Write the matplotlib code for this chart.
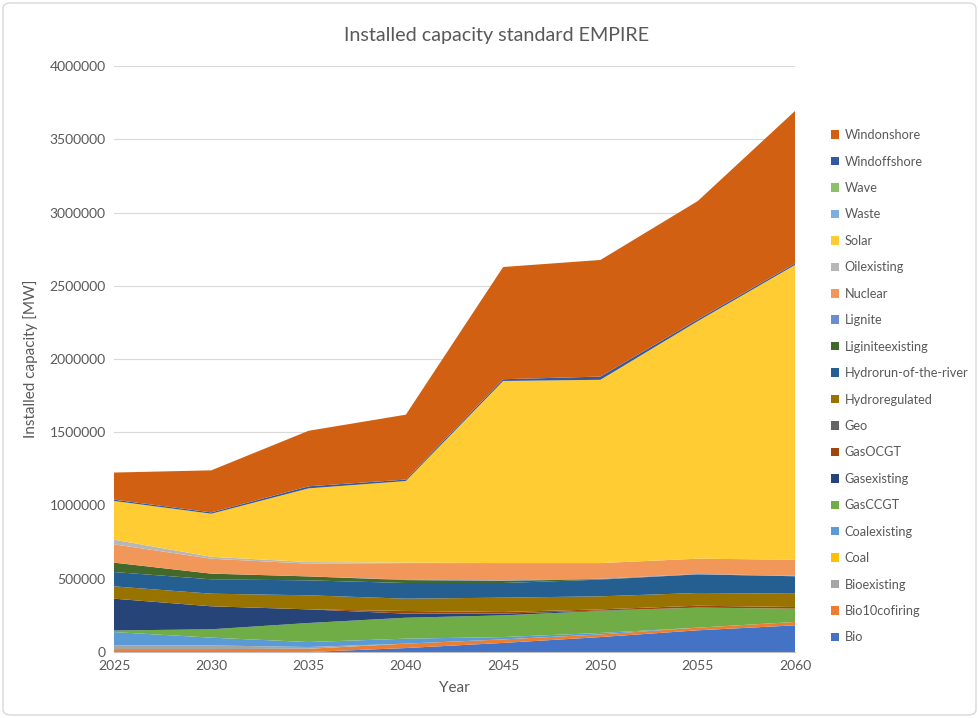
import matplotlib
matplotlib.use("Agg")
import matplotlib.pyplot as plt
from matplotlib.patches import Patch, FancyBboxPatch

plt.rcParams['font.family'] = ['Lato', 'DejaVu Sans']

years = [2025, 2030, 2035, 2040, 2045, 2050, 2055, 2060]

bio            = [0, 0, 0, 27000, 62000, 102000, 148000, 182000]
bio10cofiring  = [20000, 20000, 22000, 30000, 24000, 18000, 18000, 23000]
bioexisting    = [25000, 25000, 12000, 0, 0, 0, 0, 0]
coal           = [0, 0, 0, 0, 0, 0, 0, 0]
coalexisting   = [91000, 53000, 34000, 34000, 16000, 10000, 0, 0]
gasccgt        = [11000, 57000, 130000, 143000, 148000, 150000, 137000, 91000]
gasexisting    = [217000, 157000, 93000, 28000, 12000, 3000, 0, 0]
gasocgt        = [0, 0, 0, 18000, 11000, 8000, 13000, 11000]
geo            = [0, 0, 0, 0, 0, 0, 0, 0]
hydroregulated = [84000, 86000, 96000, 84000, 98000, 89000, 87000, 91000]
hydrorun       = [98000, 98000, 102000, 107000, 100000, 114000, 127000, 119000]
liginiteexist  = [64000, 39000, 27000, 20000, 15000, 3000, 0, 0]
lignite        = [0, 0, 0, 3000, 3000, 3000, 3000, 3000]
nuclear        = [125000, 102000, 87000, 113000, 118000, 107000, 104000, 110000]
oilexisting    = [32000, 13000, 11000, 3000, 0, 0, 0, 0]
solar          = [264000, 294000, 503000, 557000, 1243000, 1251000, 1621000, 2012000]
waste          = [0, 0, 0, 0, 0, 0, 0, 0]
wave           = [0, 0, 0, 0, 0, 0, 0, 0]
windoffshore   = [9000, 9000, 14000, 10000, 12000, 22000, 12000, 10000]
windonshore    = [185000, 287000, 379000, 443000, 766000, 796000, 808000, 1041000]

labels = ["Bio", "Bio10cofiring", "Bioexisting", "Coal", "Coalexisting", "GasCCGT",
          "Gasexisting", "GasOCGT", "Geo", "Hydroregulated", "Hydrorun-of-the-river",
          "Liginiteexisting", "Lignite", "Nuclear", "Oilexisting", "Solar", "Waste",
          "Wave", "Windoffshore", "Windonshore"]
series = [bio, bio10cofiring, bioexisting, coal, coalexisting, gasccgt, gasexisting,
          gasocgt, geo, hydroregulated, hydrorun, liginiteexist, lignite, nuclear,
          oilexisting, solar, waste, wave, windoffshore, windonshore]
colors = ["#4472C4", "#ED7D31", "#A5A5A5", "#FFC000", "#5B9BD5", "#70AD47",
          "#264478", "#9E480E", "#636363", "#997300", "#255E91", "#43682B",
          "#698ED0", "#F1975A", "#B7B7B7", "#FFCD33", "#7CAFDD", "#8CC168",
          "#335AA1", "#D26012"]

yticks = [0, 500000, 1000000, 1500000, 2000000, 2500000, 3000000, 3500000, 4000000]

fig = plt.figure(figsize=(9.79, 7.18), dpi=100)
ax = fig.add_axes([114/979, 1-652/718, (795-114)/979, (652-66)/718])

ax.stackplot(years, *series, colors=colors, linewidth=0)

ax.set_xlim(years[0], years[-1])
ax.set_ylim(0, 4000000)
ax.set_xticks(years)
ax.set_yticks(yticks)
ax.set_yticklabels([str(v) for v in yticks])
ax.grid(axis='y', color='#D9D9D9', linewidth=0.8)
ax.set_axisbelow(True)
for s in ['top', 'right', 'left']:
    ax.spines[s].set_visible(False)
ax.spines['bottom'].set_color('#BFBFBF')
ax.tick_params(axis='both', length=0, labelsize=10, colors='#595959', pad=6)

ax.set_xlabel("Year", fontsize=11, color='#595959', labelpad=6)
ax.set_ylabel("Installed capacity [MW]", fontsize=11, color='#595959', labelpad=8)
fig.text(497/979, 1-35/718, "Installed capacity standard EMPIRE", ha='center', va='center',
         fontsize=14.2, color='#595959')

handles = [Patch(facecolor=c, edgecolor='none') for c in colors]
leg = fig.legend(handles[::-1], labels[::-1], loc='upper left',
                 bbox_to_anchor=(826/979, 1-124/718), frameon=False,
                 fontsize=9.2, labelspacing=1.13, handlelength=0.65, handleheight=0.65,
                 handletextpad=0.4, borderaxespad=0)
for t in leg.get_texts():
    t.set_color('#595959')

border = FancyBboxPatch((3/979, 3/718), 973/979, 712/718, transform=fig.transFigure,
                       boxstyle="round,pad=0,rounding_size=0.008", fill=False,
                       edgecolor='#D9D9D9', linewidth=1)
fig.patches.append(border)

fig.savefig("out.png", dpi=100)
